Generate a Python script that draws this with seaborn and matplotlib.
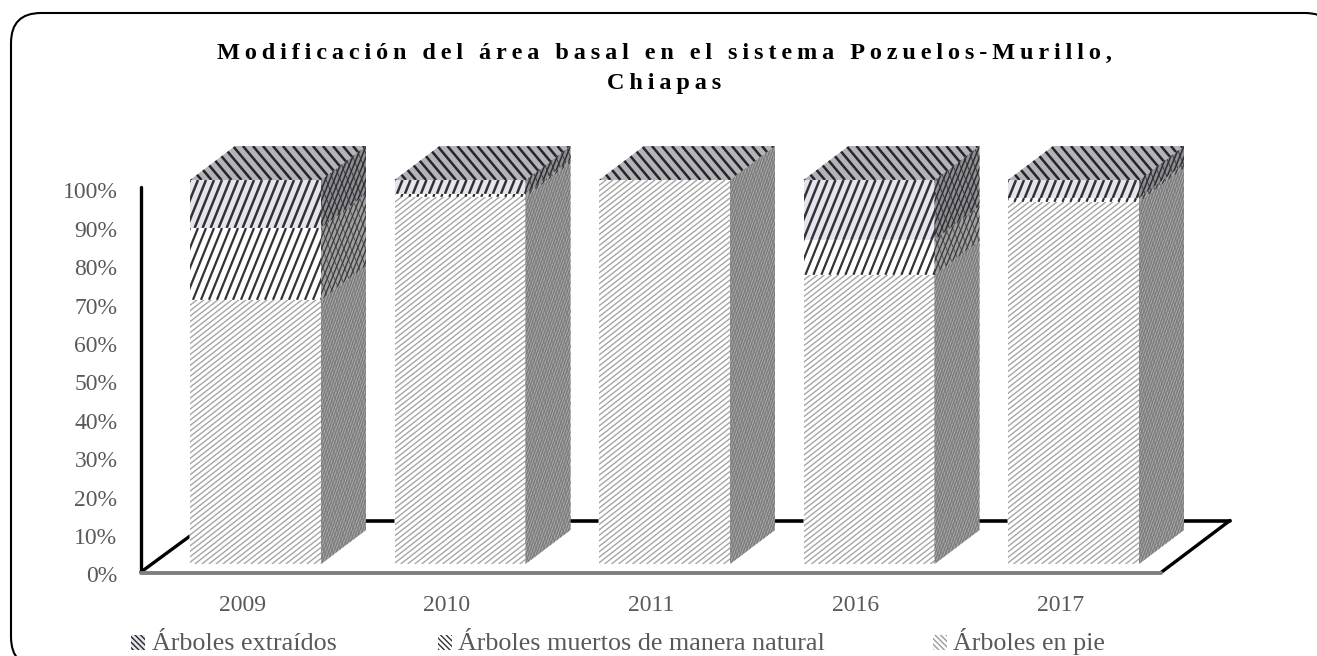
"""
Modificación del área basal, barras apiladas con caras 3D dibujadas a mano.
"""
import numpy as np
import pandas as pd
import seaborn as sns
from matplotlib import pyplot as plt
from matplotlib.collections import LineCollection
from matplotlib.patches import FancyBboxPatch, Polygon, Rectangle
from matplotlib.transforms import IdentityTransform, ScaledTranslation

W, H = 1317, 656

years = ["2009", "2010", "2011", "2016", "2017"]
en_pie = [68.8, 95.6, 100, 75.3, 94.3]
muertos = [18.7, 0.8, 0, 9.1, 1]
extraidos = [12.5, 3.6, 0, 15.6, 4.7]
labels = ["Árboles extraídos", "Árboles muertos de manera natural", "Árboles en pie"]
title_lines = ["Modificación del área basal en el sistema Pozuelos-Murillo,", "Chiapas"]

sns.set_theme(style="white")
plt.rcParams['font.family'] = ['Liberation Serif', 'DejaVu Serif']
plt.rcParams['hatch.linewidth'] = 1.0

DX, DY = 45, 34  # profundidad de las barras en pixeles
GRIS = "#595959"


def px(x, y):
    # de pixeles de la imagen (origen arriba) a pixeles de la figura
    return x, H - y


def rayas(poly, angulo, paso, color, lw, ax, z):
    # rayas diagonales recortadas al poligono
    pts = poly.get_transform().transform(poly.get_path().vertices)
    x0, y0 = pts.min(axis=0)
    x1, y1 = pts.max(axis=0)
    alto = y1 - y0
    d = alto / np.tan(np.radians(abs(angulo)))
    signo = 1 if angulo > 0 else -1
    starts = np.arange(x0 - d - paso, x1 + d + paso, paso)
    segs = [[(s, y0), (s + signo * d, y1)] for s in starts]
    lc = LineCollection(segs, colors=color, linewidths=lw, transform=IdentityTransform(), zorder=z)
    ax.add_collection(lc, autolim=False)
    lc.set_clip_box(None)
    lc.set_clip_path(poly)


fig = plt.figure(figsize=(W / 100, H / 100), dpi=100)
ax = fig.add_axes([153.25 / W, (H - 564) / H, 1022.5 / W, 384 / H])

df = pd.DataFrame({"year": years, "en_pie": en_pie, "muertos": muertos, "extraidos": extraidos})
df["c1"] = df["en_pie"]
df["c2"] = df["c1"] + df["muertos"]
df["c3"] = df["c2"] + df["extraidos"]

# estilo por capa: fondo, angulo, paso, color de raya, grosor
frente = [("#ffffff", 38, 7.0, "#a6a6a6", 1.0),
          ("#ffffff", 68, 8.0, "#333333", 1.6),
          ("#e6e4ee", 68, 8.0, "#333333", 1.8)]
lado = [("#a8a8a8", 70, 2.6, "#7a7a7a", 0.9),
        ("#a0a0a0", 68, 4.5, "#3c3c3c", 1.0),
        ("#8e8c94", 68, 4.5, "#2e2e2e", 1.1)]

# de mayor a menor para que queden apiladas
for col, z in [("c3", 3), ("c2", 4), ("c1", 5)]:
    sns.barplot(data=df, x="year", y=col, order=years, color="white", saturation=1,
                width=131 / 204.5, ax=ax, zorder=z)

ax.set_xlim(-0.5, 4.5)
ax.set_ylim(0, 100)
ax.set_xlabel("")
ax.set_ylabel("")
sns.despine(ax=ax, left=True, bottom=True)
ax.patch.set_visible(False)

fig.canvas.draw()
capas = [ax.containers[2], ax.containers[1], ax.containers[0]]
for k, cont in enumerate(capas):
    for i, bar in enumerate(cont):
        base = [df["c1"], df["c2"], df["c3"]][k][i] - [en_pie, muertos, extraidos][k][i]
        top = bar.get_height()
        if top - base <= 0:
            continue
        x0 = bar.get_x()
        x1 = x0 + bar.get_width()
        fondo, ang, paso, color, lw = frente[k]
        p = Rectangle((x0, base), x1 - x0, top - base, facecolor=fondo, edgecolor="none", zorder=6)
        ax.add_patch(p)
        rayas(p, ang, paso, color, lw, ax, 7)

        # cara lateral, mismo x/y de la barra mas el desplazamiento de profundidad
        a = ax.transData.transform([(x1, base), (x1, top)])
        fondo, ang, paso, color, lw = lado[k]
        q = Polygon([a[0], a[0] + (DX, DY), a[1] + (DX, DY), a[1]], closed=True, clip_on=False,
                    facecolor=fondo, edgecolor="none", transform=IdentityTransform(), zorder=6)
        ax.add_patch(q)
        rayas(q, ang, paso, color, lw, ax, 7)
        rayas(q, -ang, paso * 1.6, color, lw * 0.5, ax, 7)

# tapa superior
for i, bar in enumerate(ax.containers[0]):
    x0 = bar.get_x()
    x1 = x0 + bar.get_width()
    a = ax.transData.transform([(x0, 100), (x1, 100)])
    t = Polygon([a[0], a[1], a[1] + (DX, DY), a[0] + (DX, DY)], closed=True, clip_on=False,
                facecolor="#b4b2bb", edgecolor="none", transform=IdentityTransform(), zorder=6)
    ax.add_patch(t)
    rayas(t, -50, 10, "#262626", 1.8, ax, 7)

# suelo y pared
for xs, ys, color, lw, z in [
    ([141, 141], [187, 572], "black", 2.4, 2),
    ([141, 190], [572, 536], "black", 2.4, 2),
    ([235, 1230], [520.5, 520.5], "black", 2.6, 2),
    ([1230, 1161], [520.5, 572.5], "black", 2.4, 2),
    ([141, 1161], [572.5, 572.5], "#7f7f7f", 2.8, 8),
]:
    xy = [px(a, b) for a, b in zip(xs, ys)]
    ax.plot(*zip(*xy), color=color, lw=lw, transform=IdentityTransform(), clip_on=False,
            zorder=z, solid_capstyle="round")

# ticks: van sobre la pared, 8 px por debajo de la barra
ax.set_yticks(np.arange(0, 101, 10))
ax.set_yticklabels([f"{v}%" for v in range(0, 101, 10)])
ax.tick_params(axis="both", length=0, labelsize=17, labelcolor=GRIS)
for t in ax.get_yticklabels():
    t.set_transform(t.get_transform() + ScaledTranslation(-31 / 100, -10.5 / 100, fig.dpi_scale_trans))
for t in ax.get_xticklabels():
    t.set_transform(t.get_transform() + ScaledTranslation(-13 / 100, -26 / 100, fig.dpi_scale_trans))

# titulo con letras separadas
for linea, y in zip(title_lines, [53, 84]):
    espaciado = "\u2009".join(linea)
    fig.text(664 / W, 1 - y / H, espaciado, ha="center", va="center", fontsize=17.5,
             fontweight="bold", color="black")

# leyenda
estilos = [("#e6e4ee", "\\\\\\\\\\\\", "#262626"), ("#ffffff", "\\\\\\\\\\\\", "#333333"),
           ("#ffffff", "\\\\\\\\\\\\", "#9a9a9a")]
for lab, xs, xt, (fc, ha, ec) in zip(labels, [131, 438, 933], [152, 458, 953], estilos):
    fig.patches.append(Rectangle((xs / W, 1 - 650 / H), 14 / W, 15 / H, transform=fig.transFigure,
                                 facecolor=fc, edgecolor=ec, hatch=ha, lw=0, figure=fig))
    fig.text(xt / W, 1 - 650 / H, lab, ha="left", va="baseline", fontsize=18.8, color=GRIS)

# marco redondeado, se sale por abajo y por la derecha; con relleno blanco detras de todo
fig.patches.append(FancyBboxPatch((41, 19), 1264, 594,
                                  boxstyle="round,pad=30,rounding_size=30", transform=IdentityTransform(),
                                  facecolor="white", edgecolor="black", lw=1.5, figure=fig, zorder=-1))

fig.savefig("out.png", dpi=100)
